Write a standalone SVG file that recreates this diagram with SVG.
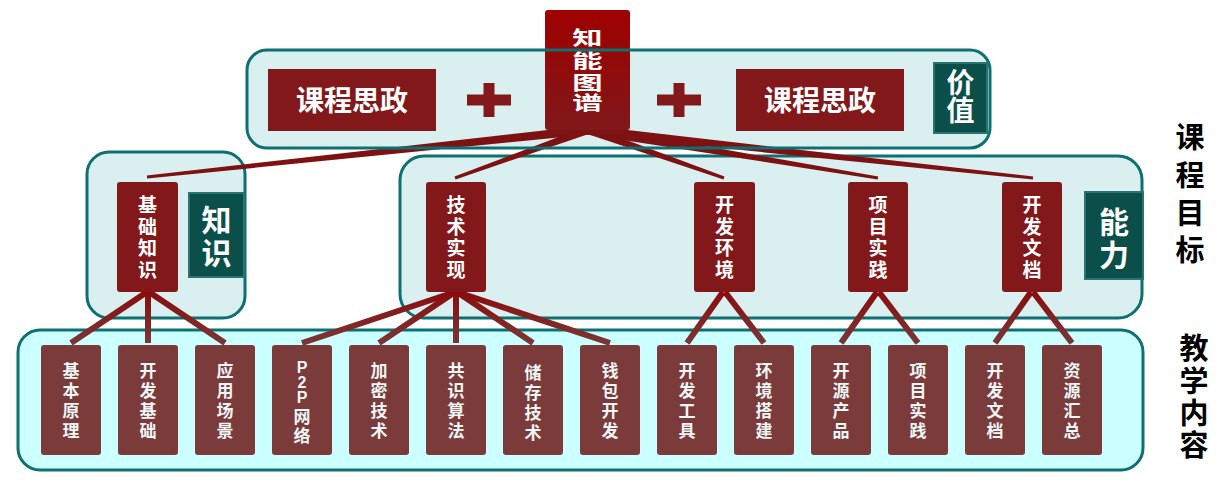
<svg xmlns="http://www.w3.org/2000/svg" width="1230" height="488" viewBox="0 0 1230 488">
<defs>
<linearGradient id="gTop" x1="0" y1="0" x2="0" y2="1">
<stop offset="0" stop-color="#a00000"/><stop offset="1" stop-color="#80181a"/>
</linearGradient>
<linearGradient id="gLine" gradientUnits="userSpaceOnUse" x1="0" y1="292" x2="0" y2="345">
<stop offset="0" stop-color="#8a0c0c"/><stop offset="1" stop-color="#7a3838"/>
</linearGradient>
<style>
.cont{fill:#d9eff0;stroke:#0e7070;stroke-width:3}
.contB{fill:#ccffff;stroke:#0e7070;stroke-width:3}
.edge{fill:none;stroke:#0e7070;stroke-width:3}
.red{fill:#82181a}
.brown{fill:#7b3b3b}
.teal{fill:#0b4f4b;stroke:#2b736e;stroke-width:2}
.t{font-family:"Liberation Sans","Noto Sans CJK SC",sans-serif;font-weight:bold;fill:#ffffff;text-anchor:middle}
.tb{font-family:"Liberation Sans","Noto Sans CJK SC",sans-serif;font-weight:bold;fill:#eef6f6;text-anchor:middle;font-size:17px}
.lat{font-size:16px}
.tm{font-size:19px}
.side{font-family:"Liberation Sans","Noto Sans CJK SC",sans-serif;font-weight:bold;fill:#000000;text-anchor:middle;font-size:29px}
.top{fill:#7e1212}
.ln{stroke:url(#gLine);stroke-width:6;fill:none}
</style>
</defs>

<g id="containers">
<rect id="value-area" x="247" y="50" width="743" height="98" rx="20" fill="#d9eff0"/>
<rect id="knowledge-area" class="cont" x="87" y="152" width="158" height="166" rx="22"/>
<rect id="ability-area" class="cont" x="400" y="156" width="742" height="162" rx="24"/>
<rect id="content-area" class="contB" x="18" y="330" width="1125" height="140" rx="22"/>
</g>

<g id="connectors">
<polygon class="top" points="588.5,134.5 587.5,125.5 146.8,175.5 147.2,178.5"/>
<polygon class="top" points="589.4,133.7 586.6,126.3 454.5,176.6 455.5,179.4"/>
<polygon class="top" points="586.6,133.7 589.4,126.3 724.5,176.6 723.5,179.4"/>
<polygon class="top" points="587.2,134.4 588.8,125.6 878.3,176.5 877.7,179.5"/>
<polygon class="top" points="587.5,134.5 588.5,125.5 1033.2,176.5 1032.8,179.5"/>
<line class="ln" x1="147" y1="292" x2="71" y2="343"/>
<line class="ln" x1="148" y1="292" x2="148" y2="343"/>
<line class="ln" x1="149" y1="292" x2="225" y2="343"/>
<line class="ln" x1="455" y1="292" x2="302" y2="343"/>
<line class="ln" x1="455" y1="292" x2="379" y2="343"/>
<line class="ln" x1="456" y1="292" x2="456" y2="343"/>
<line class="ln" x1="457" y1="292" x2="533" y2="343"/>
<line class="ln" x1="457" y1="292" x2="610" y2="343"/>
<line class="ln" x1="723" y1="292" x2="687" y2="343"/>
<line class="ln" x1="725" y1="292" x2="764" y2="343"/>
<line class="ln" x1="877" y1="292" x2="841" y2="343"/>
<line class="ln" x1="879" y1="292" x2="918" y2="343"/>
<line class="ln" x1="1031" y1="292" x2="995" y2="343"/>
<line class="ln" x1="1033" y1="292" x2="1072" y2="343"/>
</g>

<g id="root">
<rect x="545" y="10" width="85" height="120" rx="3" fill="url(#gTop)"/>
<text class="t" font-size="19" transform="translate(587.5 0) scale(1.6 1)"><tspan x="0" y="45">知</tspan><tspan x="0" y="68">能</tspan><tspan x="0" y="90">图</tspan><tspan x="0" y="110">谱</tspan></text>
</g>
<g id="value-area-outline">
<rect class="edge" x="247" y="50" width="743" height="98" rx="20"/>
</g>

<g id="sz-left">
<rect class="red" x="268" y="69" width="168" height="62"/>
<text class="t" x="352" y="110.5" font-size="28">课程思政</text>
</g>
<g id="plus-left">
<rect class="red" x="467" y="94.5" width="44" height="11"/>
<rect class="red" x="483.5" y="83" width="11" height="34"/>
</g>
<g id="plus-right">
<rect class="red" x="657" y="94.5" width="44" height="11"/>
<rect class="red" x="673.5" y="83" width="11" height="34"/>
</g>
<g id="sz-right">
<rect class="red" x="736" y="69" width="168" height="62"/>
<text class="t" x="820" y="110.5" font-size="28">课程思政</text>
</g>
<g id="value">
<rect class="teal" x="934" y="63" width="53" height="70"/>
<text class="t" font-size="28"><tspan x="960.5" y="92.5">价</tspan><tspan x="960.5" y="121">值</tspan></text>
</g>

<g id="basic">
<rect class="red" x="117" y="182" width="61" height="110" rx="3"/>
<text class="t tm"><tspan x="147.5" y="212">基</tspan><tspan x="147.5" y="234">础</tspan><tspan x="147.5" y="255">知</tspan><tspan x="147.5" y="277">识</tspan></text>
</g>
<g id="knowledge">
<rect class="teal" x="189" y="193" width="55" height="84"/>
<text class="t" font-size="30"><tspan x="216.5" y="231">知</tspan><tspan x="216.5" y="264">识</tspan></text>
</g>
<g id="tech">
<rect class="red" x="426" y="182" width="60" height="110" rx="3"/>
<text class="t tm"><tspan x="456" y="212">技</tspan><tspan x="456" y="234">术</tspan><tspan x="456" y="255">实</tspan><tspan x="456" y="277">现</tspan></text>
</g>
<g id="env">
<rect class="red" x="694" y="182" width="61" height="110" rx="3"/>
<text class="t tm"><tspan x="724.5" y="212">开</tspan><tspan x="724.5" y="234">发</tspan><tspan x="724.5" y="255">环</tspan><tspan x="724.5" y="277">境</tspan></text>
</g>
<g id="project">
<rect class="red" x="848" y="182" width="60" height="110" rx="3"/>
<text class="t tm"><tspan x="878" y="212">项</tspan><tspan x="878" y="234">目</tspan><tspan x="878" y="255">实</tspan><tspan x="878" y="277">践</tspan></text>
</g>
<g id="docs">
<rect class="red" x="1002" y="182" width="60" height="110" rx="3"/>
<text class="t tm"><tspan x="1032" y="212">开</tspan><tspan x="1032" y="234">发</tspan><tspan x="1032" y="255">文</tspan><tspan x="1032" y="277">档</tspan></text>
</g>
<g id="ability">
<rect class="teal" x="1085" y="192" width="58" height="87"/>
<text class="t" font-size="30"><tspan x="1114" y="233">能</tspan><tspan x="1114" y="266">力</tspan></text>
</g>

<g id="b1"><rect class="brown" x="41" y="345" width="60" height="110" rx="3"/><text class="tb"><tspan x="71" y="376.5">基</tspan><tspan x="71" y="396.5">本</tspan><tspan x="71" y="416.5">原</tspan><tspan x="71" y="436.5">理</tspan></text></g>
<g id="b2"><rect class="brown" x="118" y="345" width="60" height="110" rx="3"/><text class="tb"><tspan x="148" y="376.5">开</tspan><tspan x="148" y="396.5">发</tspan><tspan x="148" y="416.5">基</tspan><tspan x="148" y="436.5">础</tspan></text></g>
<g id="b3"><rect class="brown" x="195" y="345" width="60" height="110" rx="3"/><text class="tb"><tspan x="225" y="376.5">应</tspan><tspan x="225" y="396.5">用</tspan><tspan x="225" y="416.5">场</tspan><tspan x="225" y="436.5">景</tspan></text></g>
<g id="b4"><rect class="brown" x="272" y="345" width="60" height="110" rx="3"/><text class="tb"><tspan class="lat" x="302" y="373">P</tspan><tspan class="lat" x="302" y="388">2</tspan><tspan class="lat" x="302" y="403">P</tspan><tspan x="302" y="423">网</tspan><tspan x="302" y="442">络</tspan></text></g>
<g id="b5"><rect class="brown" x="349" y="345" width="60" height="110" rx="3"/><text class="tb"><tspan x="379" y="376.5">加</tspan><tspan x="379" y="396.5">密</tspan><tspan x="379" y="416.5">技</tspan><tspan x="379" y="436.5">术</tspan></text></g>
<g id="b6"><rect class="brown" x="426" y="345" width="60" height="110" rx="3"/><text class="tb"><tspan x="456" y="376.5">共</tspan><tspan x="456" y="396.5">识</tspan><tspan x="456" y="416.5">算</tspan><tspan x="456" y="436.5">法</tspan></text></g>
<g id="b7"><rect class="brown" x="503" y="345" width="60" height="110" rx="3"/><text class="tb"><tspan x="533" y="379">储</tspan><tspan x="533" y="399">存</tspan><tspan x="533" y="419">技</tspan><tspan x="533" y="439">术</tspan></text></g>
<g id="b8"><rect class="brown" x="580" y="345" width="60" height="110" rx="3"/><text class="tb"><tspan x="610" y="376.5">钱</tspan><tspan x="610" y="396.5">包</tspan><tspan x="610" y="416.5">开</tspan><tspan x="610" y="436.5">发</tspan></text></g>
<g id="b9"><rect class="brown" x="657" y="345" width="60" height="110" rx="3"/><text class="tb"><tspan x="687" y="376.5">开</tspan><tspan x="687" y="396.5">发</tspan><tspan x="687" y="416.5">工</tspan><tspan x="687" y="436.5">具</tspan></text></g>
<g id="b10"><rect class="brown" x="734" y="345" width="60" height="110" rx="3"/><text class="tb"><tspan x="764" y="376.5">环</tspan><tspan x="764" y="396.5">境</tspan><tspan x="764" y="416.5">搭</tspan><tspan x="764" y="436.5">建</tspan></text></g>
<g id="b11"><rect class="brown" x="811" y="345" width="60" height="110" rx="3"/><text class="tb"><tspan x="841" y="376.5">开</tspan><tspan x="841" y="396.5">源</tspan><tspan x="841" y="416.5">产</tspan><tspan x="841" y="436.5">品</tspan></text></g>
<g id="b12"><rect class="brown" x="888" y="345" width="60" height="110" rx="3"/><text class="tb"><tspan x="918" y="376.5">项</tspan><tspan x="918" y="396.5">目</tspan><tspan x="918" y="416.5">实</tspan><tspan x="918" y="436.5">践</tspan></text></g>
<g id="b13"><rect class="brown" x="965" y="345" width="60" height="110" rx="3"/><text class="tb"><tspan x="995" y="376.5">开</tspan><tspan x="995" y="396.5">发</tspan><tspan x="995" y="416.5">文</tspan><tspan x="995" y="436.5">档</tspan></text></g>
<g id="b14"><rect class="brown" x="1042" y="345" width="60" height="110" rx="3"/><text class="tb"><tspan x="1072" y="376.5">资</tspan><tspan x="1072" y="396.5">源</tspan><tspan x="1072" y="416.5">汇</tspan><tspan x="1072" y="436.5">总</tspan></text></g>

<g id="label-goals"><text class="side"><tspan x="1190" y="148">课</tspan><tspan x="1190" y="186">程</tspan><tspan x="1190" y="224">目</tspan><tspan x="1190" y="261">标</tspan></text></g>
<g id="label-content"><text class="side"><tspan x="1194" y="359">教</tspan><tspan x="1194" y="392">学</tspan><tspan x="1194" y="424">内</tspan><tspan x="1194" y="456">容</tspan></text></g>
</svg>
